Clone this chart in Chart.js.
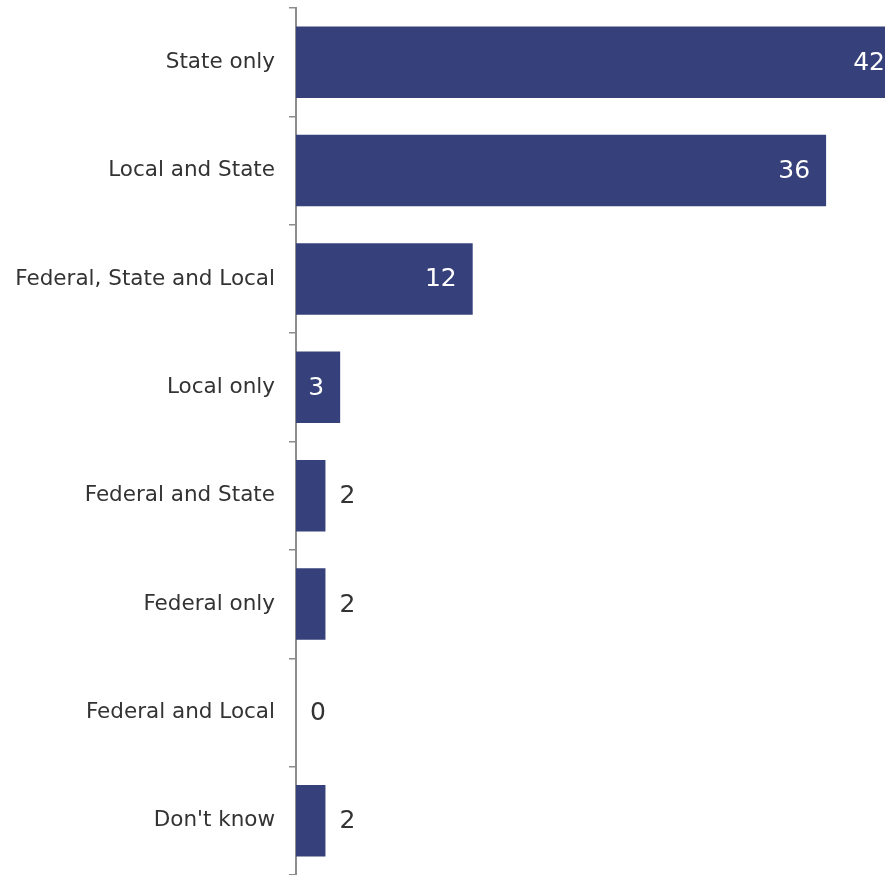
<!DOCTYPE html>
<html>
<head>
<meta charset="utf-8">
<script src="https://cdn.jsdelivr.net/npm/chart.js@4"></script>
<style>
    html, body { margin: 0; padding: 0; background: #fff; }
    #wrap { width: 885px; height: 875px; }
</style>
</head>
<body>
<div id="wrap"><canvas id="levelChart"></canvas></div>
<script>
const categories = [
    'State only',
    'Local and State',
    'Federal, State and Local',
    'Local only',
    'Federal and State',
    'Federal only',
    'Federal and Local',
    "Don't know"
];
const shares = [42, 36, 12, 3, 2, 2, 0, 2];

const barColor = 'rgb(54, 64, 122)';
const textColor = '#333333';
const axisColor = '#8c8c8c';

// value labels: white inside the longer bars, dark just past the short ones
const valueLabels = {
    id: 'valueLabels',
    afterDatasetsDraw(chart) {
        const ctx = chart.ctx;
        const area = chart.chartArea;
        const meta = chart.getDatasetMeta(0);
        ctx.save();
        ctx.font = '25px "DejaVu Sans"';
        ctx.textBaseline = 'middle';
        meta.data.forEach((bar, i) => {
            const v = shares[i];
            if (v >= 3) {
                ctx.fillStyle = '#ffffff';
                ctx.textAlign = 'right';
                ctx.fillText(String(v), Math.min(bar.x - 16, area.right), bar.y + 1);
            } else {
                ctx.fillStyle = textColor;
                ctx.textAlign = 'left';
                ctx.fillText(String(v), bar.x + 14, bar.y + 1);
            }
        });
        ctx.restore();
    }
};

new Chart(document.getElementById('levelChart').getContext('2d'), {
    type: 'bar',
    data: {
        labels: categories,
        datasets: [{
            data: shares,
            backgroundColor: barColor,
            borderWidth: 0,
            barPercentage: 0.66,
            categoryPercentage: 1.0
        }]
    },
    options: {
        indexAxis: 'y',
        responsive: true,
        maintainAspectRatio: false,
        animation: false,
        layout: {
            padding: { top: 8, right: 0, bottom: 0, left: 0 }
        },
        scales: {
            x: {
                display: false,
                min: 0,
                max: 40
            },
            y: {
                afterFit: function (scale) {
                    scale.width = 296;
                    scale.paddingTop = 0;
                    scale.paddingBottom = 0;
                },
                grid: {
                    offset: true,
                    drawOnChartArea: false,
                    drawTicks: true,
                    tickLength: 7,
                    color: axisColor,
                    lineWidth: 1.5
                },
                border: {
                    display: true,
                    color: axisColor,
                    width: 2
                },
                ticks: {
                    color: textColor,
                    padding: 14,
                    font: { family: '"DejaVu Sans"', size: 21.5 }
                }
            }
        },
        plugins: {
            legend: { display: false },
            tooltip: { enabled: false }
        }
    },
    plugins: [valueLabels]
});
</script>
</body>
</html>
